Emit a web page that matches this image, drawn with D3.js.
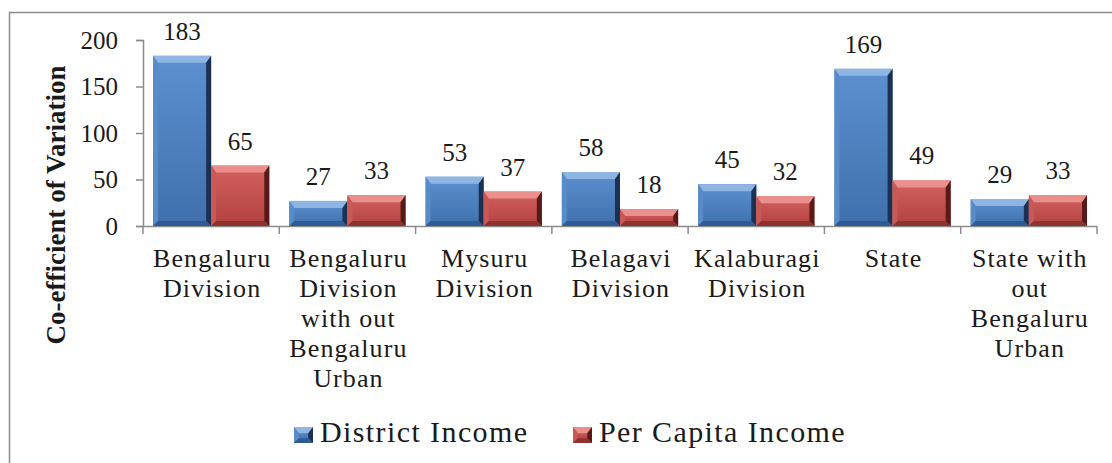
<!DOCTYPE html>
<html>
<head>
<meta charset="utf-8">
<script src="https://cdn.jsdelivr.net/npm/d3@7"></script>
<style>
  body { margin: 0; background: #fff; }
  text { font-family: "Liberation Serif", "DejaVu Serif", serif; fill: #1a1a1a; }
</style>
</head>
<body>
<div id="chart-area"></div>
<script>
const width = 1112;
const height = 463;

// data
const categories = [
  ["Bengaluru", "Division"],
  ["Bengaluru", "Division", "with out", "Bengaluru", "Urban"],
  ["Mysuru", "Division"],
  ["Belagavi", "Division"],
  ["Kalaburagi", "Division"],
  ["State"],
  ["State with", "out", "Bengaluru", "Urban"]
];
const seriesNames = ["District Income", "Per Capita Income"];
const districtIncome = [183, 27, 53, 58, 45, 169, 29];
const perCapitaIncome = [65, 33, 37, 18, 32, 49, 33];
const yTicks = [0, 50, 100, 150, 200];

const colors = [
  {top: "#5d90d0", bot: "#3f70ad", light: "#8fb5e3", left: "#5a8bc9", dark: "#1c3152", bottom: "#2f5a92"},
  {top: "#d2625f", bot: "#b2413f", light: "#eb8f8c", left: "#c95956", dark: "#571a19", bottom: "#8e3231"}
];

let svg = d3.select("#chart-area")
  .append("svg")
  .attr("width", width)
  .attr("height", height);

// gradients for bar faces
let defs = svg.append("defs");
colors.forEach((c, s) => {
  let grad = defs.append("linearGradient")
    .attr("id", "face" + s)
    .attr("x1", 0).attr("y1", 0).attr("x2", 0).attr("y2", 1);
  grad.append("stop").attr("offset", "0%").attr("stop-color", c.top);
  grad.append("stop").attr("offset", "100%").attr("stop-color", c.bot);
});

// frame
svg.append("path")
  .attr("d", "M9.5," + height + " L9.5,12.5 L" + width + ",12.5")
  .attr("fill", "none")
  .attr("stroke", "#8c8c8c")
  .attr("stroke-width", 1.5);

// scales
const keys = categories.map((c, i) => i);
let x0 = d3.scaleBand().domain(keys).range([143, 1097]);
let x1 = d3.scaleBand().domain([0, 1]).range([10, x0.bandwidth() - 10]);
let y = d3.scaleLinear().domain([0, 200]).range([226, 40]);

// axes
const axisLeft = d3.axisLeft(y).tickValues(yTicks).tickSize(7).tickPadding(18);
const yGroup = svg.append("g").attr("transform", "translate(143,0)").call(axisLeft);
yGroup.attr("font-family", null).attr("font-size", null);
yGroup.selectAll("text").attr("font-size", "25px").attr("fill", "#1a1a1a");
yGroup.selectAll("line, path").attr("stroke", "#8c8c8c").attr("stroke-width", 1.5);
yGroup.select(".domain").attr("d", "M-7,40.5 H0.5 V226.5 H-7");

const xGroup = svg.append("g").attr("transform", "translate(0,226)");
xGroup.append("line")
  .attr("x1", 143).attr("x2", 1097).attr("y1", 0.5).attr("y2", 0.5)
  .attr("stroke", "#8c8c8c").attr("stroke-width", 1.5);
xGroup.selectAll(".tick")
  .data(keys.concat([keys.length]))
  .enter().append("line")
  .attr("x1", (d) => d < keys.length ? x0(d) : x0.range()[1])
  .attr("x2", (d) => d < keys.length ? x0(d) : x0.range()[1])
  .attr("y1", 0).attr("y2", 8)
  .attr("stroke", "#8c8c8c").attr("stroke-width", 1.5);

// category labels
let catLabels = svg.append("g").selectAll("text")
  .data(categories)
  .enter().append("text")
  .attr("text-anchor", "middle")
  .attr("font-size", "26px")
  .attr("letter-spacing", "1.1px")
  .attr("x", (d, i) => x0(i) + x0.bandwidth() / 2 + 1)
  .attr("y", 267);
catLabels.selectAll("tspan")
  .data((d) => d)
  .enter().append("tspan")
  .attr("x", function() { return d3.select(this.parentNode).attr("x"); })
  .attr("dy", (d, i) => i === 0 ? 0 : 30)
  .text((d) => d);

// y title
svg.append("text")
  .attr("transform", "translate(65,205) rotate(-90)")
  .attr("text-anchor", "middle")
  .attr("font-size", "27px")
  .attr("font-weight", "bold")
  .text("Co-efficient of Variation");

// bevel bar
function bevel(g, bx, by, bw, bh, c, s) {
  const b = Math.min(7, bh / 2.5, bw / 3);
  const r = Math.min(5, bh / 3, bw / 4);
  g.append("rect").attr("x", bx).attr("y", by).attr("width", bw).attr("height", bh).attr("fill", "url(#face" + s + ")");
  // top
  g.append("polygon").attr("fill", c.light)
    .attr("points", [[bx, by], [bx + bw, by], [bx + bw - r, by + b], [bx + r, by + b]].join(" "));
  // left
  g.append("polygon").attr("fill", c.left)
    .attr("points", [[bx, by], [bx + r, by + b], [bx + r, by + bh - r], [bx, by + bh]].join(" "));
  // right
  g.append("polygon").attr("fill", c.dark)
    .attr("points", [[bx + bw, by], [bx + bw, by + bh], [bx + bw - r, by + bh - r], [bx + bw - r, by + b]].join(" "));
  // bottom
  g.append("polygon").attr("fill", c.bottom)
    .attr("points", [[bx, by + bh], [bx + r, by + bh - r], [bx + bw - r, by + bh - r], [bx + bw, by + bh]].join(" "));
}

const series = [districtIncome, perCapitaIncome];
let bars = svg.append("g");
let labels = svg.append("g");
series.forEach((vals, s) => {
  vals.forEach((v, i) => {
    const bx = x0(i) + x1(s);
    bevel(bars.append("g"), bx, y(v), x1.bandwidth(), y(0) - y(v), colors[s], s);
    labels.append("text")
      .attr("x", bx + x1.bandwidth() / 2)
      .attr("y", y(v) - 16)
      .attr("text-anchor", "middle")
      .attr("font-size", "25px")
      .text(v);
  });
});

// legend
const legendX = [294, 573];
seriesNames.forEach((name, s) => {
  let lg = svg.append("g").attr("transform", "translate(" + legendX[s] + ",427)");
  bevel(lg, 0, 0, 19, 16, colors[s], s);
  lg.append("text")
    .attr("x", 26)
    .attr("y", 15)
    .attr("font-size", "30px")
    .attr("letter-spacing", "1.4px")
    .text(name);
});
</script>
</body>
</html>
